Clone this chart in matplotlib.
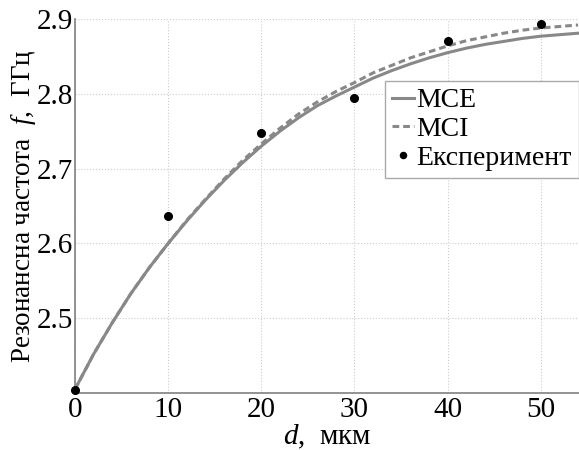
import matplotlib
matplotlib.use("Agg")
import matplotlib.pyplot as plt

# ---- data ----
d_model = [0, 2, 4, 6, 8, 10, 12, 14, 16, 18, 20, 22, 24, 26, 28, 30,
           32, 34, 36, 38, 40, 42, 44, 46, 48, 50, 52, 54]
f_mce = [2.405, 2.452, 2.494, 2.533, 2.568, 2.600, 2.630, 2.658, 2.684, 2.708,
         2.730, 2.750, 2.768, 2.784, 2.797, 2.809, 2.821, 2.831, 2.840, 2.848,
         2.855, 2.861, 2.866, 2.870, 2.874, 2.877, 2.879, 2.881]
f_mci = [2.405, 2.452, 2.494, 2.533, 2.568, 2.600, 2.631, 2.659, 2.686, 2.711,
         2.733, 2.754, 2.773, 2.789, 2.803, 2.815, 2.828, 2.838, 2.848, 2.856,
         2.864, 2.871, 2.876, 2.881, 2.885, 2.888, 2.890, 2.892]
d_exp = [0, 10, 20, 30, 40, 50]
f_exp = [2.404, 2.637, 2.747, 2.795, 2.871, 2.893]

xticks = [0, 10, 20, 30, 40, 50]
yticks = [2.5, 2.6, 2.7, 2.8, 2.9]

plt.rcParams['font.family'] = ['Liberation Serif', 'DejaVu Serif']
plt.rcParams['mathtext.fontset'] = 'custom'
plt.rcParams['mathtext.rm'] = 'Liberation Serif'
plt.rcParams['mathtext.it'] = 'Liberation Serif:italic'

FS = 21

fig = plt.figure(figsize=(5.79, 4.5), dpi=100)
ax = fig.add_axes([75/579, 1-393/450, 1-75/579, (393-19)/450])

gray = '#888888'
ax.plot(d_model, f_mce, color=gray, lw=2.2, label='MCE', zorder=3)
ax.plot(d_model, f_mci, color=gray, lw=2.2, ls=(0, (2.2, 1.3)), label='MCI', zorder=3)
ax.plot(d_exp, f_exp, 'o', color='black', ms=5.5, label='Експеримент', zorder=4, clip_on=False)

ax.set_xlim(0, 54.1)
ax.set_ylim(2.4, 2.9)
ax.set_xticks(xticks)
ax.set_yticks(yticks)
ax.set_xticklabels([str(t) for t in xticks])
ax.set_yticklabels([f'{t:.1f}' for t in yticks])
ax.tick_params(length=0, labelsize=FS)
ax.tick_params(axis='y', pad=1.5)
ax.tick_params(axis='x', pad=3)
ax.grid(True, color='#cccccc', ls=':', lw=0.8)
for s in ['top', 'right']:
    ax.spines[s].set_visible(False)
for s in ['left', 'bottom']:
    ax.spines[s].set_color('#808080')
    ax.spines[s].set_linewidth(1.2)

ax.set_xlabel('$d$,  мкм', fontsize=FS, labelpad=0)
ax.set_ylabel('Резонансна частота  $f$,  ГГц', fontsize=19.5, labelpad=-1)

leg = ax.legend(loc='upper right', bbox_to_anchor=(1.0, (393-81)/374),
                fontsize=20, handlelength=0.8, handletextpad=0.1,
                borderpad=0.25, labelspacing=0.12, borderaxespad=0,
                fancybox=False, framealpha=1, edgecolor='#aaaaaa', markerscale=0.8)
leg.get_frame().set_linewidth(1.0)

fig.savefig('out.png', dpi=100)
